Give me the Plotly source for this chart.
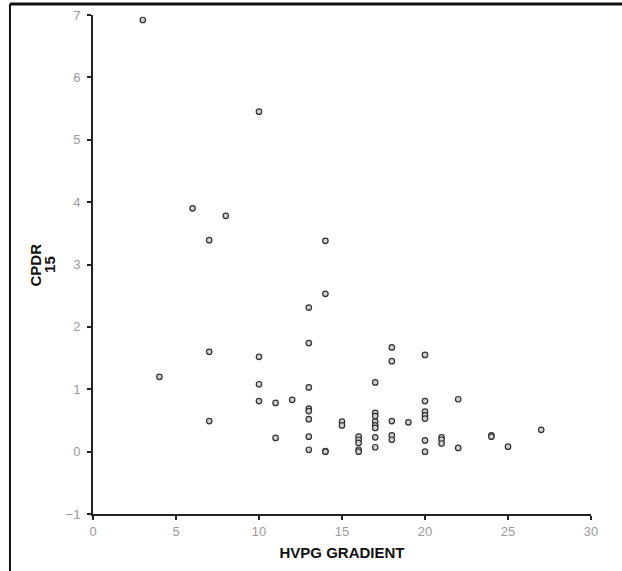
import plotly.graph_objects as go

# HVPG gradient vs CPDR15
hvpg = [3, 4, 6, 7, 7, 7, 8,
        10, 10, 10, 10, 11, 11, 12,
        13, 13, 13, 13, 13, 13, 13, 13,
        14, 14, 14, 14,
        15, 15,
        16, 16, 16, 16, 16,
        17, 17, 17, 17, 17, 17, 17, 17,
        18, 18, 18, 18, 18,
        19,
        20, 20, 20, 20, 20, 20, 20,
        21, 21, 21,
        22, 22,
        24, 24,
        25,
        27]
cpdr15 = [6.92, 1.20, 3.90, 3.39, 1.60, 0.49, 3.78,
          5.45, 1.52, 1.08, 0.81, 0.78, 0.22, 0.83,
          2.31, 1.74, 1.03, 0.69, 0.65, 0.52, 0.24, 0.03,
          3.38, 2.53, 0.01, 0.00,
          0.48, 0.42,
          0.24, 0.19, 0.14, 0.03, 0.00,
          1.11, 0.62, 0.57, 0.48, 0.42, 0.38, 0.23, 0.07,
          1.67, 1.45, 0.49, 0.26, 0.19,
          0.47,
          1.55, 0.81, 0.64, 0.58, 0.53, 0.18, 0.00,
          0.23, 0.19, 0.13,
          0.84, 0.06,
          0.26, 0.24,
          0.08,
          0.35]

x_ticks = [0, 5, 10, 15, 20, 25, 30]
y_ticks = [-1, 0, 1, 2, 3, 4, 5, 6, 7]

fig = go.Figure()
fig.add_trace(go.Scatter(
    x=hvpg, y=cpdr15, mode="markers",
    marker=dict(symbol="circle", size=5.5, color="#d0d0d0",
                line=dict(color="#333333", width=1.2)),
    cliponaxis=False, showlegend=False,
))

tick_font = dict(family="Arial, Liberation Sans, sans-serif", size=13, color="#9a9a9a")
title_font = dict(family="Arial, Liberation Sans, sans-serif", size=15, color="#111111")

fig.update_layout(
    width=622, height=571,
    margin=dict(l=93, r=31, t=15, b=57, autoexpand=False),
    paper_bgcolor="white", plot_bgcolor="white",
    xaxis=dict(
        range=[0, 30], tickvals=x_ticks, ticks="outside", ticklen=4, tickwidth=1.5,
        tickcolor="#222", showline=True, linecolor="#222", linewidth=2,
        showgrid=False, zeroline=False, tickfont=tick_font,
        title=dict(text="<b>HVPG GRADIENT</b>", font=title_font, standoff=10),
        automargin=False,
    ),
    yaxis=dict(
        range=[-1, 7], tickvals=y_ticks, ticks="outside", ticklen=4, tickwidth=1.5,
        tickcolor="#222", showline=True, linecolor="#222", linewidth=2,
        showgrid=False, zeroline=False, tickfont=tick_font, ticklabelstandoff=4,
        automargin=False,
    ),
    # two-line y title, set tightly
    annotations=[
        dict(text="<b>CPDR</b>", textangle=-90, xref="paper", yref="paper",
             x=-0.1145, y=0.5, xanchor="center", yanchor="middle",
             showarrow=False, font=title_font),
        dict(text="<b>15</b>", textangle=-90, xref="paper", yref="paper",
             x=-0.0875, y=0.5, xanchor="center", yanchor="middle",
             showarrow=False, font=title_font),
    ],
    shapes=[
        # outer frame: top and left edges
        dict(type="line", xref="paper", yref="paper",
             x0=-0.1667, x1=1.07, y0=1.022, y1=1.022,
             line=dict(color="#111", width=3)),
        dict(type="line", xref="paper", yref="paper",
             x0=-0.1667, x1=-0.1667, y0=1.022, y1=-0.12,
             line=dict(color="#111", width=2)),
    ],
)

fig.write_html("out.html")
